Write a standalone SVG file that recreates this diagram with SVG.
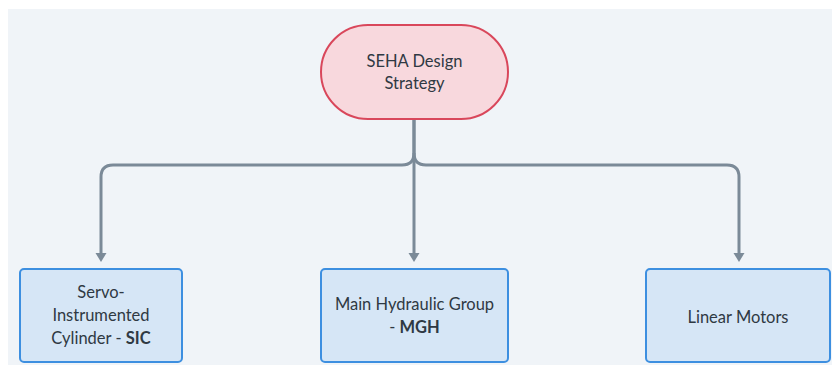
<svg xmlns="http://www.w3.org/2000/svg" width="832" height="365" viewBox="0 0 832 365">
<defs>
<style>
.t{font-family:Lato,"Noto Sans",sans-serif;font-size:16.5px;fill:#2f3943;text-anchor:middle}
.b{font-weight:bold}
.box{fill:#d6e6f6;stroke:#3d8fe0;stroke-width:2}
.ln{fill:none;stroke:#7b8a98;stroke-width:3}
.ah{fill:#7b8a98}
</style>
</defs>
<rect x="0" y="0" width="832" height="365" fill="#ffffff"/>
<rect x="8" y="9" width="824" height="356" fill="#f0f4f8"/>
<g id="connectors">
<path class="ln" d="M414 119 V153 Q414 165 402 165 H113 Q101 165 101 177 V254"/>
<path class="ln" d="M414 153 Q414 165 426 165 H727 Q739 165 739 177 V254"/>
<path class="ln" d="M414 119 V254"/>
<path class="ah" d="M95.5 253 L106.5 253 L101 262 Z"/>
<path class="ah" d="M408.5 253 L419.5 253 L414 262 Z"/>
<path class="ah" d="M733.5 253 L744.5 253 L739 262 Z"/>
</g>
<g id="seha">
<rect x="321" y="25" width="187" height="94" rx="47" fill="#f8d8dd" stroke="#d9475b" stroke-width="2"/>
<text class="t" x="414.5" y="67">SEHA Design</text>
<text class="t" x="414.5" y="89">Strategy</text>
</g>
<g id="sic">
<rect class="box" x="20" y="269" width="162" height="93" rx="4"/>
<text class="t" x="101" y="298">Servo-</text>
<text class="t" x="101" y="321">Instrumented</text>
<text class="t" x="101" y="344">Cylinder - <tspan class="b">SIC</tspan></text>
</g>
<g id="mgh">
<rect class="box" x="321" y="269" width="187" height="93" rx="4"/>
<text class="t" x="414.5" y="310">Main Hydraulic Group</text>
<text class="t" x="414.5" y="333">- <tspan class="b">MGH</tspan></text>
</g>
<g id="lm">
<rect class="box" x="646" y="269" width="184" height="93" rx="4"/>
<text class="t" x="738" y="323">Linear Motors</text>
</g>
</svg>
